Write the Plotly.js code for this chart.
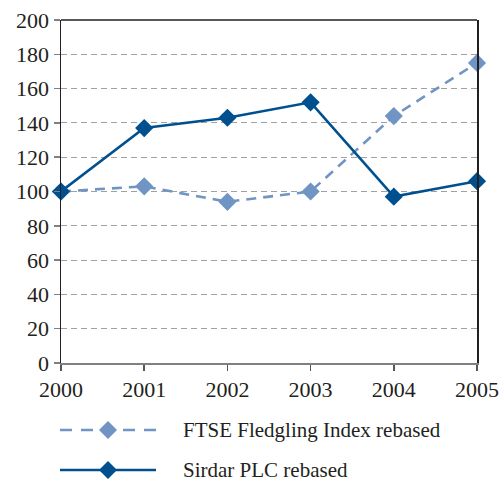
<!DOCTYPE html>
<html>
<head>
<meta charset="utf-8">
<script src="https://cdn.plot.ly/plotly-3.0.1.min.js"></script>
<style>html,body{margin:0;padding:0;background:#fff;}#chart{width:501px;height:482px;}</style>
</head>
<body>
<div id="chart"></div>
<script>
const years = [2000, 2001, 2002, 2003, 2004, 2005];
const ftse = [100, 103, 94, 100, 144, 175];
const sirdar = [100, 137, 143, 152, 97, 106];
const yTicks = [0, 20, 40, 60, 80, 100, 120, 140, 160, 180, 200];
const seriesNames = ['FTSE Fledgling Index rebased', 'Sirdar PLC rebased'];
const seriesColors = ['#7094c4', '#00508f'];
const seriesDash = ['10px,7px', 'solid'];

const FONT = 'Liberation Serif';

const traces = [ftse, sirdar].map((vals, i) => ({
  x: years, y: vals, name: seriesNames[i], type: 'scatter', mode: 'lines+markers',
  line: {color: seriesColors[i], width: 2.6, dash: seriesDash[i]},
  marker: {symbol: 'diamond', size: 14, color: seriesColors[i]},
  cliponaxis: false, showlegend: false
}));

// Custom legend below the plot (paper coordinates; plot spans x 61..477, y 20..363 px)
const W = 416, H = 343;
const px = v => (v - 61) / W;
const py = v => (363 - v) / H;
const legendRows = [430, 470];
const shapes = [
  {type: 'line', xref: 'paper', yref: 'paper', x0: 0, x1: 1, y0: 1, y1: 1, line: {color: '#231f20', width: 1.5}}
];
const annotations = [];
legendRows.forEach((ry, i) => {
  shapes.push({type: 'line', xref: 'paper', yref: 'paper', x0: px(60), x1: px(156), y0: py(ry), y1: py(ry),
    line: {color: seriesColors[i], width: 2.6, dash: i === 0 ? '12px,9px' : 'solid'}});
  shapes.push({type: 'path', xref: 'paper', yref: 'paper', xsizemode: 'pixel', ysizemode: 'pixel',
    xanchor: px(108), yanchor: py(ry), path: 'M0,9L9,0L0,-9L-9,0Z',
    fillcolor: seriesColors[i], line: {width: 0}});
  annotations.push({xref: 'paper', yref: 'paper', x: px(181), y: py(ry), xanchor: 'left', yanchor: 'middle',
    text: seriesNames[i], showarrow: false, font: {family: FONT, size: 21, color: '#231f20'}});
});

const layout = {
  width: 501, height: 482,
  margin: {l: 61, r: 24, t: 20, b: 119},
  paper_bgcolor: '#fff', plot_bgcolor: '#fff',
  font: {family: FONT, size: 22, color: '#231f20'},
  showlegend: false,
  xaxis: {
    range: [2000, 2005], tickvals: years, ticktext: years.map(String),
    showgrid: false, zeroline: false,
    showline: true, linecolor: '#808080', linewidth: 2,
    ticks: 'outside', ticklen: 6, tickcolor: '#555', tickwidth: 1.5,
    tickangle: 0,
    tickfont: {family: FONT, size: 22, color: '#231f20'}
  },
  yaxis: {
    range: [0, 200], tickvals: yTicks, ticktext: yTicks.map(String),
    showgrid: true, gridcolor: '#a0a0a0', gridwidth: 1, griddash: '6px,4px',
    zeroline: false,
    showline: true, linecolor: '#231f20', linewidth: 1.5, mirror: true,
    ticks: 'outside', ticklen: 6, tickcolor: '#808080', tickwidth: 1.5,
    tickfont: {family: FONT, size: 22, color: '#231f20'}
  },
  shapes: shapes,
  annotations: annotations
};

Plotly.newPlot('chart', traces, layout, {displayModeBar: false, staticPlot: true});
</script>
</body>
</html>
